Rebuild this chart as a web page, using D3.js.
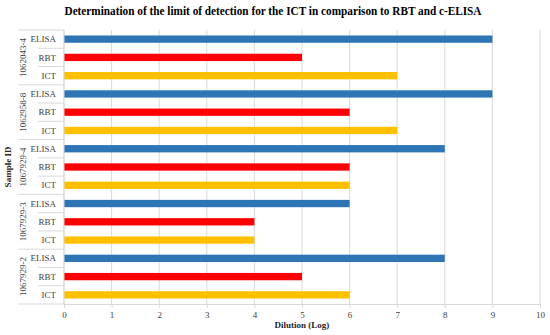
<!DOCTYPE html>
<html><head><meta charset="utf-8">
<script src="https://cdn.jsdelivr.net/npm/d3@7"></script>
<style>body{margin:0;background:#fff}svg{display:block}</style>
</head><body><svg id="c" width="550" height="335"></svg>
<script>
const samples = ["1062043-4","1062958-8","1067929-4","1067929-3","1067929-2"];
const tests = ["ELISA","RBT","ICT"];
const elisa = [9,9,8,6,8];
const rbt = [5,6,6,4,5];
const ict = [7,7,6,4,6];
const xTicks = [0,1,2,3,4,5,6,7,8,9,10];
const colors = {ELISA:"#2E75B6", RBT:"#FF0000", ICT:"#FFC000"};

const rows = [];
samples.forEach((s,i)=>{
  rows.push({sample:s,test:"ELISA",v:elisa[i]});
  rows.push({sample:s,test:"RBT",v:rbt[i]});
  rows.push({sample:s,test:"ICT",v:ict[i]});
});
const svg = d3.select("#c");
const L=64,R=540,T=30,B=304;
const x = d3.scaleLinear().domain([0,10]).range([L,R]);
const y = d3.scaleBand().domain(rows.map((d,i)=>i)).range([T,B]).paddingInner(0.6).paddingOuter(0.3);
const step = (B-T)/rows.length;
const font = "'Liberation Serif', 'DejaVu Serif', serif";

// gridlines
svg.append("g").selectAll("line").data(xTicks).join("line")
  .attr("x1",d=>x(d)).attr("x2",d=>x(d)).attr("y1",T).attr("y2",B)
  .attr("stroke","#d9d9d9").attr("stroke-width",1);

// bars
svg.append("g").selectAll("rect").data(rows).join("rect")
  .attr("x",x(0)).attr("y",(d,i)=>y(i)).attr("width",d=>x(d.v)-x(0)).attr("height",y.bandwidth())
  .attr("fill",d=>colors[d.test]);

// x axis
const xa = svg.append("g").attr("transform",`translate(0,${B})`)
  .call(d3.axisBottom(x).tickValues(xTicks).tickSize(4).tickPadding(4).tickFormat(d3.format("d")));
xa.select(".domain").attr("stroke","#d9d9d9");
xa.selectAll(".tick line").attr("stroke","#d9d9d9");
xa.selectAll("text").attr("font-family",font).attr("font-size",9).attr("fill","#404040");

// y axis line
svg.append("line").attr("x1",L).attr("x2",L).attr("y1",T).attr("y2",B).attr("stroke","#d9d9d9");

// category separators
const sep = d3.range(rows.length+1);
svg.append("g").selectAll("line").data(sep).join("line")
  .attr("x1",d=> d%3===0 ? 18 : 38).attr("x2",L)
  .attr("y1",d=>T+d*step).attr("y2",d=>T+d*step)
  .attr("stroke","#d9d9d9");

// category labels
svg.append("g").selectAll("text").data(rows).join("text")
  .attr("x",56).attr("y",(d,i)=>T+(i+0.5)*step).attr("dy","0.35em")
  .attr("text-anchor","end").attr("font-family",font).attr("font-size",9).attr("fill","#404040")
  .text(d=>d.test);

// sample labels
svg.append("g").selectAll("text").data(samples).join("text")
  .attr("transform",(d,i)=>`translate(26,${T+(i*3+1.5)*step}) rotate(-90)`)
  .attr("text-anchor","middle").attr("font-family",font).attr("font-size",9).attr("fill","#404040")
  .text(d=>d);

// axis titles
svg.append("text").attr("transform",`translate(11,${(T+B)/2}) rotate(-90)`)
  .attr("text-anchor","middle").attr("font-family",font).attr("font-size",9).attr("font-weight","bold").attr("fill","#262626")
  .text("Sample ID");
svg.append("text").attr("x",(L+R)/2).attr("y",328)
  .attr("text-anchor","middle").attr("font-family",font).attr("font-size",9).attr("font-weight","bold").attr("fill","#262626")
  .text("Dilution (Log)");

// title
svg.append("text").attr("x",273).attr("y",15)
  .attr("text-anchor","middle").attr("font-family",font).attr("font-size",12).attr("font-weight","bold").attr("fill","#000")
  .attr("textLength",417).attr("lengthAdjust","spacingAndGlyphs")
  .text("Determination of the limit of detection for the ICT in comparison to RBT and c-ELISA");
</script></body></html>
